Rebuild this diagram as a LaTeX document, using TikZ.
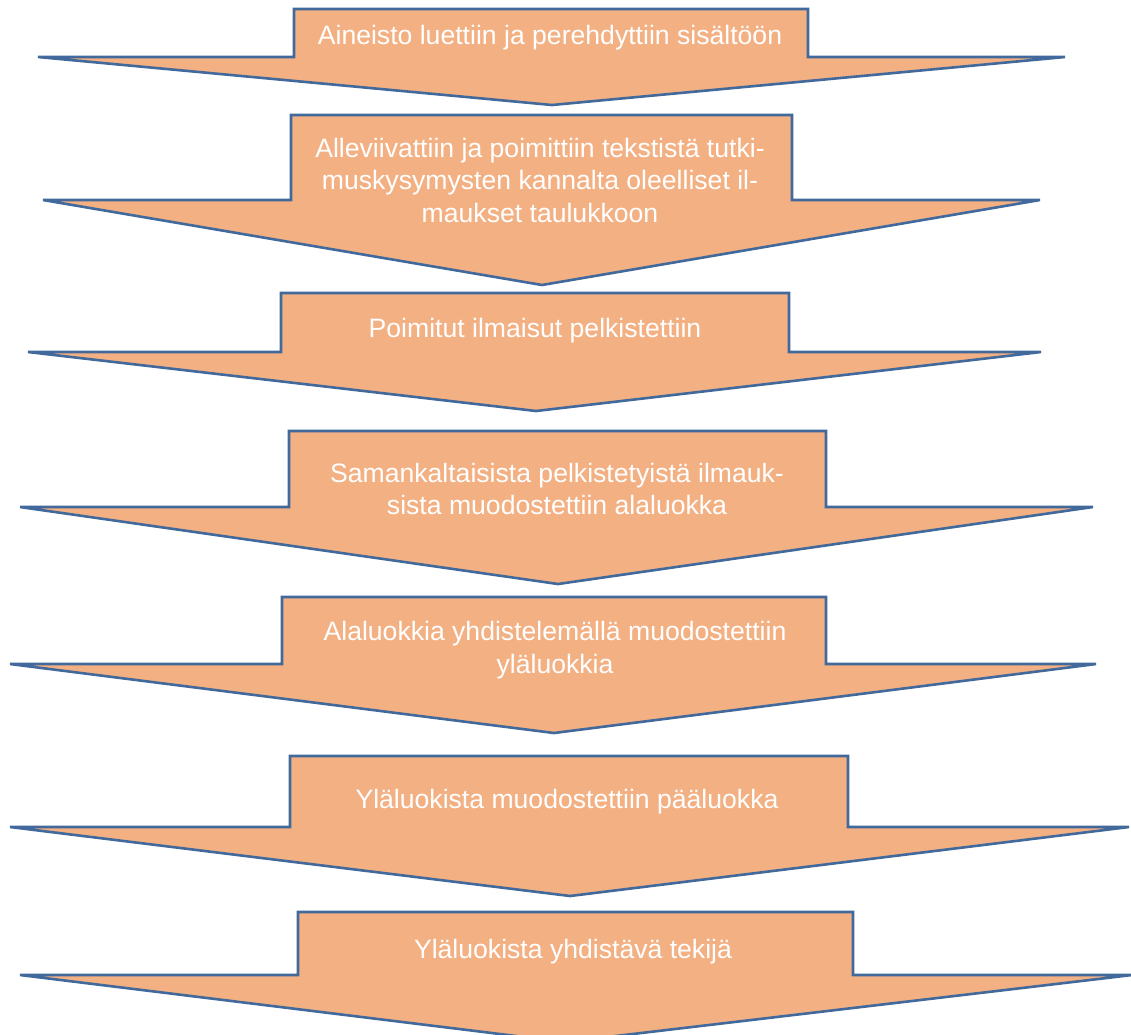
\documentclass[tikz,border=0pt]{standalone}
\usepackage{fontspec}
\setmainfont{Liberation Sans}
\definecolor{stepfill}{RGB}{243,176,131}
\definecolor{stepline}{RGB}{65,105,155}

\begin{document}
\begin{tikzpicture}[x=1pt, y=-1pt,
       ar/.style={fill=stepfill, draw=stepline, line width=2.6pt},
       lbl/.style={text=white, align=center, inner sep=0pt,
         font=\fontsize{26.6}{32.5}\selectfont}]
     \useasboundingbox (0,0) rectangle (1131,1034);
     \draw[ar] (294,9) -- (808,9) -- (808,57) -- (1065,57) -- (552,105) -- (38,57) -- (294,57) -- cycle;
     \draw[ar] (291,115) -- (792,115) -- (792,200) -- (1040,200) -- (542,285) -- (43,200) -- (291,200) -- cycle;
     \draw[ar] (281,293) -- (789,293) -- (789,352) -- (1041,352) -- (536,411) -- (28,352) -- (281,352) -- cycle;
     \draw[ar] (289,431) -- (826,431) -- (826,507) -- (1093,507) -- (558,584) -- (20,507) -- (289,507) -- cycle;
     \draw[ar] (282,597) -- (826,597) -- (826,664) -- (1096,664) -- (554,733) -- (10,664) -- (282,664) -- cycle;
     \draw[ar] (290,756) -- (848,756) -- (848,827) -- (1129,827) -- (570,896) -- (10,827) -- (290,827) -- cycle;
     \draw[ar] (298,912) -- (853,912) -- (853,975) -- (1132,975) -- (565,1042) -- (20,975) -- (298,975) -- cycle;
     \node[lbl] (t1) at (550,38) {Aineisto luettiin ja perehdyttiin sisältöön};
     \node[lbl] (t2) at (540,180) {Alleviivattiin ja poimittiin tekstistä tutki-\\muskysymysten kannalta oleelliset il-\\maukset taulukkoon};
     \node[lbl] (t3) at (535,331) {Poimitut ilmaisut pelkistettiin};
     \node[lbl] (t4) at (557,489) {Samankaltaisista pelkistetyistä ilmauk-\\sista muodostettiin alaluokka};
     \node[lbl] (t5) at (555,650) {Alaluokkia yhdistelemällä muodostettiin\\yläluokkia};
     \node[lbl] (t6) at (567,802) {Yläluokista muodostettiin pääluokka};
     \node[lbl] (t7) at (573,952) {Yläluokista yhdistävä tekijä};
   \end{tikzpicture}
\end{document}
